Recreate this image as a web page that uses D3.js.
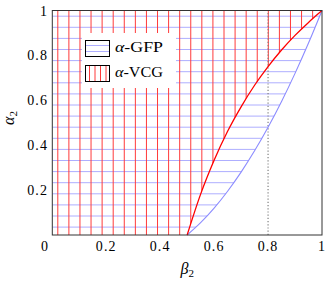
<!DOCTYPE html>
<html>
<head>
<meta charset="utf-8">
<script src="https://cdn.jsdelivr.net/npm/d3@7"></script>
<style>
  body { margin: 0; background: #fff; }
  text { font-family: "Liberation Serif", serif; fill: #000; }
</style>
</head>
<body>
<svg width="332" height="283"></svg>
<script>
"use strict";

// Data.

var betaPts  = [0.5, 0.55, 0.6, 0.65, 0.7, 0.75, 0.8, 0.85, 0.9, 0.95, 1];
var gfpAlpha = [0, 0.055, 0.12, 0.195, 0.28, 0.375, 0.48, 0.595, 0.72, 0.855, 1];
var vcgAlpha = [0, 0.182, 0.333, 0.462, 0.571, 0.667, 0.75, 0.824, 0.889, 0.947, 1];

var xTicks = [0.2, 0.4, 0.6, 0.8, 1];
var yTicks = [0.2, 0.4, 0.6, 0.8, 1];
var xTickLabels = ["0.2", "0.4", "0.6", "0.8", "1"];
var yTickLabels = ["0.2", "0.4", "0.6", "0.8", "1"];

var markBeta = 0.8;

var legendNames = ["GFP", "VCG"];

// Layout.

var svg = d3.select("svg");

var Left = 52.3, Right = 322, Top = 10.5, Bottom = 235;

var x = d3.scaleLinear().domain([0, 1]).range([Left, Right]);
var y = d3.scaleLinear().domain([0, 1]).range([Bottom, Top]);

var BlueHatch = "#aeaeff";
var BlueLine = "#8c8cff";
var RedHatch = "#ff3a3a";
var RedLine = "#ff0000";

var FontSize = 14;
var Spacing = "1.1px";

var line = d3.line()
    .x(function(d){ return x(d[0]); })
    .y(function(d){ return y(d[1]); })
    .curve(d3.curveMonotoneX);

var gfp = betaPts.map(function(b, i){ return [b, gfpAlpha[i]]; });
var vcg = betaPts.map(function(b, i){ return [b, vcgAlpha[i]]; });

// Region left of a curve, used to clip the hatching.
var regionPath = function(pts){
    return line(pts) + "L" + x(0) + "," + y(1) + "L" + x(0) + "," + y(0) + "Z";
};

var defs = svg.append("defs");
defs.append("clipPath").attr("id", "clipGfp")
    .append("path").attr("d", regionPath(gfp));
defs.append("clipPath").attr("id", "clipVcg")
    .append("path").attr("d", regionPath(vcg));

// Horizontal hatching (GFP).
svg.append("g")
    .attr("clip-path", "url(#clipGfp)")
    .selectAll("line")
    .data(d3.range(16.2, Bottom, 11.1))
    .enter().append("line")
        .attr("x1", Left).attr("x2", Right)
        .attr("y1", function(d){ return d; })
        .attr("y2", function(d){ return d; })
        .style("stroke", BlueHatch)
        .style("stroke-width", 1);

// Vertical hatching (VCG).
svg.append("g")
    .attr("clip-path", "url(#clipVcg)")
    .selectAll("line")
    .data(d3.range(57.8, Right, 11.08))
    .enter().append("line")
        .attr("x1", function(d){ return d; })
        .attr("x2", function(d){ return d; })
        .attr("y1", Top).attr("y2", Bottom)
        .style("stroke", RedHatch)
        .style("stroke-width", 1);

// Dotted marker at beta = 0.8.
svg.append("line")
    .attr("x1", x(markBeta)).attr("x2", x(markBeta))
    .attr("y1", y(0)).attr("y2", y(1))
    .style("stroke", "#808080")
    .style("stroke-width", 1.2)
    .style("stroke-dasharray", "1.2,2");

// Curves.
svg.append("path")
    .attr("d", line(gfp))
    .attr("fill", "none")
    .style("stroke", BlueLine)
    .style("stroke-width", 1.1);

svg.append("path")
    .attr("d", line(vcg))
    .attr("fill", "none")
    .style("stroke", RedLine)
    .style("stroke-width", 1.3);

// Legend.
var lg = svg.append("g");
lg.append("rect")
    .attr("x", 82).attr("y", 33).attr("width", 94).attr("height", 55)
    .attr("fill", "#fff");

var sw1 = lg.append("g");
sw1.selectAll("line").data([45.5, 51.5]).enter().append("line")
    .attr("x1", 86).attr("x2", 109)
    .attr("y1", function(d){ return d; }).attr("y2", function(d){ return d; })
    .style("stroke", BlueHatch).style("stroke-width", 1);
sw1.append("rect")
    .attr("x", 85.5).attr("y", 40.5).attr("width", 24).attr("height", 16)
    .attr("fill", "none").style("stroke", "#000").style("stroke-width", 1);

var sw2 = lg.append("g");
sw2.selectAll("line").data([89.5, 95, 100.5, 106]).enter().append("line")
    .attr("x1", function(d){ return d; }).attr("x2", function(d){ return d; })
    .attr("y1", 66).attr("y2", 81)
    .style("stroke", RedHatch).style("stroke-width", 1);
sw2.append("rect")
    .attr("x", 85.5).attr("y", 65.5).attr("width", 24).attr("height", 16)
    .attr("fill", "none").style("stroke", "#000").style("stroke-width", 1);

lg.selectAll("text.leg").data(legendNames).enter().append("text")
    .attr("class", "leg")
    .attr("x", 115)
    .attr("y", function(d, i){ return 51.5 + i*25.5; })
    .attr("font-size", 15)
    .attr("textLength", 48)
    .attr("lengthAdjust", "spacingAndGlyphs")
    .each(function(d){
        var t = d3.select(this);
        t.append("tspan").attr("font-style", "italic").text("\u03B1");
        t.append("tspan").text("-" + d);
    });

// Frame.
svg.append("rect")
    .attr("x", Left).attr("y", Top)
    .attr("width", Right - Left).attr("height", Bottom - Top)
    .attr("fill", "none")
    .style("stroke", "#333")
    .style("stroke-width", 1);

// Tick labels.
svg.selectAll("text.xt").data(xTicks).enter().append("text")
    .attr("class", "xt")
    .attr("x", function(d){ return x(d); })
    .attr("y", 251)
    .attr("text-anchor", "middle")
    .attr("font-size", FontSize)
    .style("letter-spacing", Spacing)
    .text(function(d, i){ return xTickLabels[i]; });

svg.selectAll("text.yt").data(yTicks).enter().append("text")
    .attr("class", "yt")
    .attr("x", 48)
    .attr("y", function(d){ return y(d) + 5; })
    .attr("text-anchor", "end")
    .attr("font-size", FontSize)
    .style("letter-spacing", Spacing)
    .text(function(d, i){ return yTickLabels[i]; });

// Shared origin label.
svg.append("text")
    .attr("x", 48).attr("y", 251)
    .attr("text-anchor", "end")
    .attr("font-size", FontSize)
    .text("0");

// Axis labels.
var xl = svg.append("text")
    .attr("x", x(0.5)).attr("y", 274)
    .attr("text-anchor", "middle")
    .attr("font-size", 16);
xl.append("tspan").attr("font-style", "italic").text("\u03B2");
xl.append("tspan").attr("font-size", 11).attr("dy", 3).text("2");

var yl = svg.append("text")
    .attr("transform", "translate(14," + 118 + ") rotate(-90)")
    .attr("text-anchor", "middle")
    .attr("font-size", 16);
yl.append("tspan").attr("font-style", "italic").text("\u03B1");
yl.append("tspan").attr("font-size", 11).attr("dy", 3).text("2");
</script>
</body>
</html>
